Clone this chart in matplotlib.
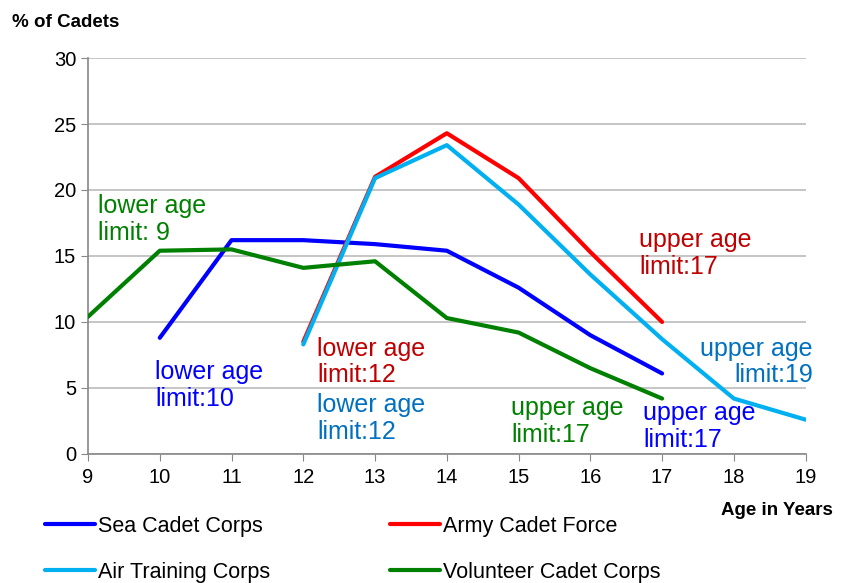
import matplotlib.pyplot as plt

# data (% of cadets by age)
sea_ages = [10, 11, 12, 13, 14, 15, 16, 17]
sea_pct = [8.8, 16.2, 16.2, 15.9, 15.4, 12.6, 9.0, 6.1]

army_ages = [12, 13, 14, 15, 16, 17]
army_pct = [8.5, 21.0, 24.3, 20.9, 15.3, 10.0]

air_ages = [12, 13, 14, 15, 16, 17, 18, 19]
air_pct = [8.3, 20.9, 23.4, 18.9, 13.6, 8.7, 4.2, 2.6]

vol_ages = [9, 10, 11, 12, 13, 14, 15, 16, 17]
vol_pct = [10.4, 15.4, 15.5, 14.1, 14.6, 10.3, 9.2, 6.5, 4.2]

x_ticks = list(range(9, 20))
y_ticks = [0, 5, 10, 15, 20, 25, 30]

plt.rcParams["font.family"] = "Liberation Sans"

fig = plt.figure(figsize=(8.48, 5.83), dpi=100)
ax = fig.add_axes([0.1038, 0.2213, 0.8462, 0.6792])

ax.plot(sea_ages, sea_pct, color="#0000FF", lw=3, solid_capstyle="round", label="Sea Cadet Corps", zorder=3)
ax.plot(army_ages, army_pct, color="#FF0000", lw=3, solid_capstyle="round", label="Army Cadet Force", zorder=3)
ax.plot(air_ages, air_pct, color="#00B0F0", lw=3, solid_capstyle="round", label="Air Training Corps", zorder=3)
ax.plot(vol_ages, vol_pct, color="#008000", lw=3, solid_capstyle="round", label="Volunteer Cadet Corps", zorder=3)

ax.set_xlim(9, 19)
ax.set_ylim(0, 30)
ax.set_xticks(x_ticks)
ax.set_yticks(y_ticks)
ax.tick_params(axis="both", labelsize=14.5, color="#888888", length=5, direction="out")
ax.tick_params(axis="x", pad=5)
ax.yaxis.grid(True, color="#BBBBBB", lw=1.2)
ax.set_axisbelow(True)
for s in ["top", "right"]:
    ax.spines[s].set_visible(False)
for s in ["left", "bottom"]:
    ax.spines[s].set_color("#888888")
    ax.spines[s].set_linewidth(1.2)

# annotations
fs = 18
kw = dict(fontsize=fs, va="top", linespacing=1.15)
ax.text(9.14, 19.7, "lower age\nlimit: 9", color="#008000", **kw)
ax.text(9.94, 7.1, "lower age\nlimit:10", color="#0000FF", **kw)
ax.text(12.19, 8.9, "lower age\nlimit:12", color="#C00000", **kw)
ax.text(12.19, 4.6, "lower age\nlimit:12", color="#0070C0", **kw)
ax.text(16.68, 17.1, "upper age\nlimit:17", color="#C00000", **kw)
ax.text(19.1, 8.9, "upper age\nlimit:19", color="#0070C0", ha="right", **kw)
ax.text(14.9, 4.4, "upper age\nlimit:17", color="#008000", **kw)
ax.text(16.74, 4.0, "upper age\nlimit:17", color="#0000FF", clip_on=True, **kw)

fig.text(0.014, 0.976, "% of Cadets", fontsize=13.5, fontweight="bold", va="top")
fig.text(0.982, 0.124, "Age in Years", fontsize=13.5, fontweight="bold", ha="right", va="center")

handles, labels = ax.get_legend_handles_labels()
order = [0, 2, 1, 3]
fig.legend([handles[i] for i in order], [labels[i] for i in order],
           loc="upper left", bbox_to_anchor=(0.043, 0.13), ncol=2, frameon=False,
           prop={"size": 15.5}, handlelength=2.3, handletextpad=0.15,
           columnspacing=5.6, labelspacing=1.15, borderaxespad=0)

fig.savefig("out.png", dpi=100)
